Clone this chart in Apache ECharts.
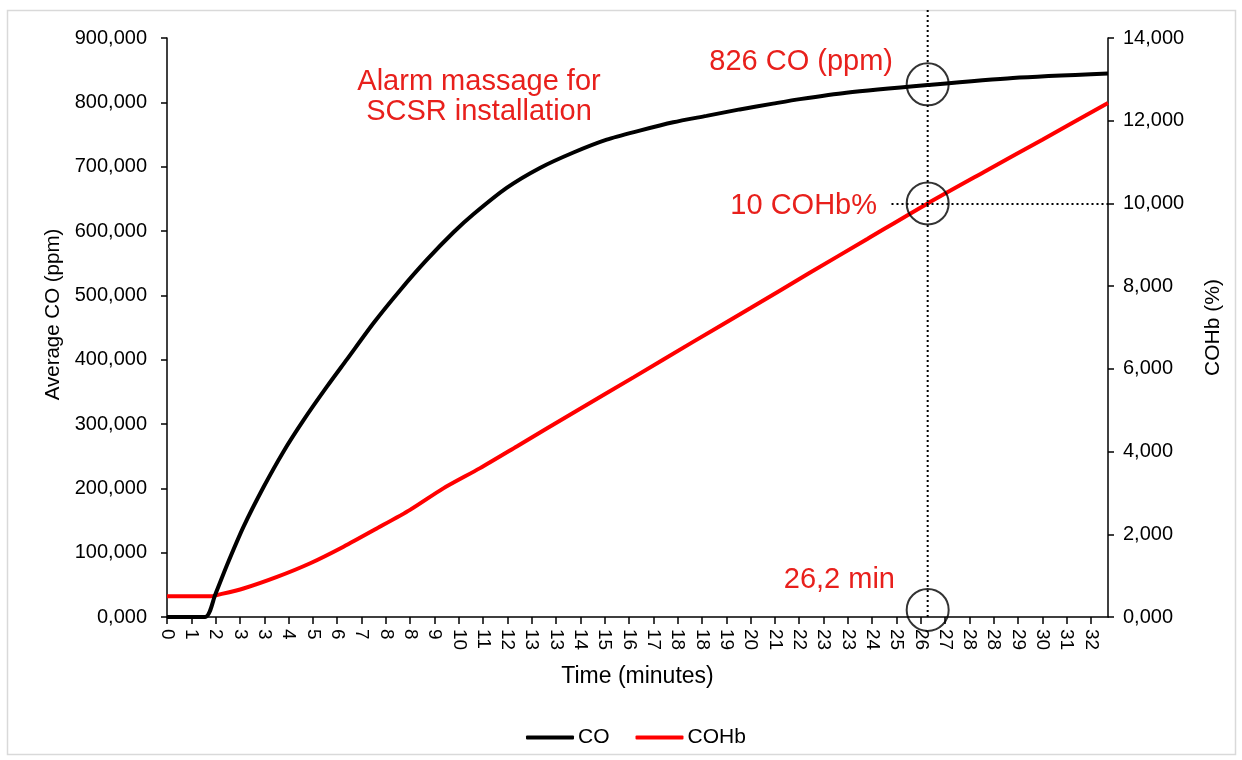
<!DOCTYPE html>
<html>
<head>
<meta charset="utf-8">
<script src="https://cdn.jsdelivr.net/npm/echarts@6/dist/echarts.min.js"></script>
<style>
  html, body { margin: 0; padding: 0; background: #ffffff; }
  #chart { width: 1242px; height: 760px; }
</style>
</head>
<body>
<div id="chart"></div>
<script>
// ---- Data (time in minutes) ----
const coTime = [0, 1.31, 1.655, 2.05, 2.62, 3.31, 3.99, 4.68, 5.48, 6.16, 7.08, 7.99, 8.9, 9.82, 10.5, 11.64, 12.78, 13.93, 15.07, 16.2, 17.35, 18.49, 19.63, 20.77, 21.69, 23.28, 26.07, 28.99, 32.25];
const coValues = [0, 0, 35, 80, 140, 202, 257, 306, 358, 400, 457, 508, 555, 598, 626, 667, 698, 722, 742, 756, 769, 779, 789, 798, 805, 815, 827, 838, 845];

const cohbTime = [0, 1.5, 1.71, 2.62, 3.77, 4.91, 6.05, 7.19, 8.33, 9.47, 10.73, 12, 14, 16, 18, 20, 22, 24, 26.07, 28, 30, 32.25];
const cohbValues = [0.5, 0.5, 0.53, 0.69, 0.97, 1.30, 1.70, 2.14, 2.59, 3.11, 3.60, 4.13, 4.97, 5.80, 6.64, 7.47, 8.31, 9.14, 10.0, 10.76, 11.54, 12.43];

// x tick labels every 50 s
const xTickLabels = ['0','1','2','3','3','4','5','6','7','8','8','9','10','11','12','13','13','14','15','16','17','18','18','19','20','21','22','23','23','24','25','26','27','28','28','29','30','31','32'];
const xTickStepSec = 50;
const xMaxSec = 1935;

const alarmTime = 26.07;      // minutes, position of marker
const alarmCO = 828;          // ppm
const alarmCOHb = 10;         // %
const hLineStartTime = 24.83; // minutes

const series1Name = 'CO';
const series2Name = 'COHb';

// ---- Build ----
const toSec = m => m * 60;
const coData = coTime.map((t, i) => [toSec(t), coValues[i]]);
const cohbData = cohbTime.map((t, i) => [toSec(t), cohbValues[i]]);
const fmt3 = v => Number(v).toFixed(3).replace('.', ',');

const FONT = "'Liberation Sans', Arial, sans-serif";
const RED_TEXT = '#e8201c';
const RED_FONT = "29px 'Liberation Sans', Arial, sans-serif";

const chart = echarts.init(document.getElementById('chart'), null, { renderer: 'canvas' });

const option = {
  backgroundColor: '#ffffff',
  animation: false,
  textStyle: { fontFamily: FONT },
  grid: { left: 167, right: 134, top: 38, bottom: 143, containLabel: false },
  legend: {
    data: [series1Name, series2Name],
    left: 521, top: 722,
    icon: 'roundRect',
    itemWidth: 48, itemHeight: 4,
    itemGap: 26,
    textStyle: { fontSize: 21, color: '#000', fontFamily: FONT, padding: [0, 0, 0, -1] }
  },
  xAxis: {
    type: 'value',
    min: 0, max: xMaxSec, interval: xTickStepSec,
    name: 'Time (minutes)',
    nameLocation: 'middle', nameGap: 48,
    nameTextStyle: { fontSize: 23, color: '#000', fontFamily: FONT },
    axisLine: { show: true, onZero: false, lineStyle: { color: '#000', width: 1.5 } },
    axisTick: { show: true, inside: false, length: 7, lineStyle: { color: '#000', width: 1.5 } },
    axisLabel: {
      show: true, rotate: -90, margin: 12, fontSize: 19, color: '#000', fontFamily: FONT,
      showMaxLabel: false,
      formatter: v => { const i = Math.round(v / xTickStepSec); return (Math.abs(v - i * xTickStepSec) < 1e-6 && xTickLabels[i] !== undefined) ? xTickLabels[i] : ''; }
    },
    splitLine: { show: false }
  },
  yAxis: [
    {
      type: 'value', min: 0, max: 900, interval: 100, position: 'left',
      name: 'Average CO (ppm)', nameLocation: 'middle', nameGap: 102, nameRotate: 90,
      nameTextStyle: { fontSize: 20.5, color: '#000', fontFamily: FONT, padding: [0, 0, 0, 26] },
      axisLine: { show: true, lineStyle: { color: '#000', width: 1.5 } },
      axisTick: { show: true, inside: false, length: 6, lineStyle: { color: '#000', width: 1.5 } },
      axisLabel: { margin: 20, fontSize: 20, color: '#000', fontFamily: FONT, formatter: fmt3 },
      splitLine: { show: false }
    },
    {
      type: 'value', min: 0, max: 14, interval: 2, position: 'right',
      name: 'COHb (%)', nameLocation: 'middle', nameGap: 95, nameRotate: 90,
      nameTextStyle: { fontSize: 21, color: '#000', fontFamily: FONT },
      axisLine: { show: true, lineStyle: { color: '#000', width: 1.5 } },
      axisTick: { show: true, inside: false, length: 6, lineStyle: { color: '#000', width: 1.5 } },
      axisLabel: { margin: 15, fontSize: 20, color: '#000', fontFamily: FONT, formatter: fmt3 },
      splitLine: { show: false }
    }
  ],
  series: [
    {
      name: series1Name, type: 'line', yAxisIndex: 0, data: coData,
      symbol: 'none', smooth: 0.25,
      lineStyle: { color: '#000000', width: 4 }, itemStyle: { color: '#000000' },
      z: 3
    },
    {
      name: series2Name, type: 'line', yAxisIndex: 1, data: cohbData,
      symbol: 'none', smooth: 0.25,
      lineStyle: { color: '#ff0000', width: 4 }, itemStyle: { color: '#ff0000' },
      z: 2,
      markLine: {
        silent: true, symbol: 'none', animation: false,
        label: { show: false },
        lineStyle: { color: '#000', type: [2, 3], width: 2 },
        data: [[{ coord: [toSec(hLineStartTime), alarmCOHb] }, { coord: [xMaxSec, alarmCOHb] }]]
      }
    },
    {
      name: 'circlesCO', type: 'scatter', yAxisIndex: 0,
      data: [[toSec(alarmTime), alarmCO], [toSec(alarmTime), 11]],
      symbol: 'circle', symbolSize: 42, silent: true,
      itemStyle: { color: 'rgba(0,0,0,0)', borderColor: '#000', borderWidth: 2 },
      z: 5
    },
    {
      name: 'circlesCOHb', type: 'scatter', yAxisIndex: 1,
      data: [[toSec(alarmTime), alarmCOHb]],
      symbol: 'circle', symbolSize: 42, silent: true,
      itemStyle: { color: 'rgba(0,0,0,0)', borderColor: '#000', borderWidth: 2 },
      z: 5
    }
  ]
};

chart.setOption(option);

// Annotations
const xA = chart.convertToPixel({ xAxisIndex: 0 }, toSec(alarmTime));
const yBottom = chart.convertToPixel({ yAxisIndex: 0 }, 0);
chart.setOption({
  graphic: [
    { type: 'rect', shape: { x: 7.5, y: 10.5, width: 1228, height: 744 }, style: { fill: 'none', stroke: '#d9d9d9', lineWidth: 1.5 }, silent: true, z: -10 },
    { type: 'line', shape: { x1: xA, y1: 10, x2: xA, y2: yBottom }, style: { stroke: '#000', lineWidth: 2, lineDash: [2, 3] }, silent: true, z: 10 },
    { type: 'text', x: 479, y: 67, style: { text: 'Alarm massage for\nSCSR installation', fill: RED_TEXT, font: RED_FONT, align: 'center', verticalAlign: 'top', lineHeight: 30 }, z: 10 },
    { type: 'text', x: 893, y: 62, style: { text: '826 CO (ppm)', fill: RED_TEXT, font: RED_FONT, align: 'right', verticalAlign: 'middle' }, z: 10 },
    { type: 'text', x: 877, y: 206, style: { text: '10 COHb%', fill: RED_TEXT, font: RED_FONT, align: 'right', verticalAlign: 'middle' }, z: 10 },
    { type: 'text', x: 895, y: 580, style: { text: '26,2 min', fill: RED_TEXT, font: RED_FONT, align: 'right', verticalAlign: 'middle' }, z: 10 }
  ]
});
</script>
</body>
</html>
